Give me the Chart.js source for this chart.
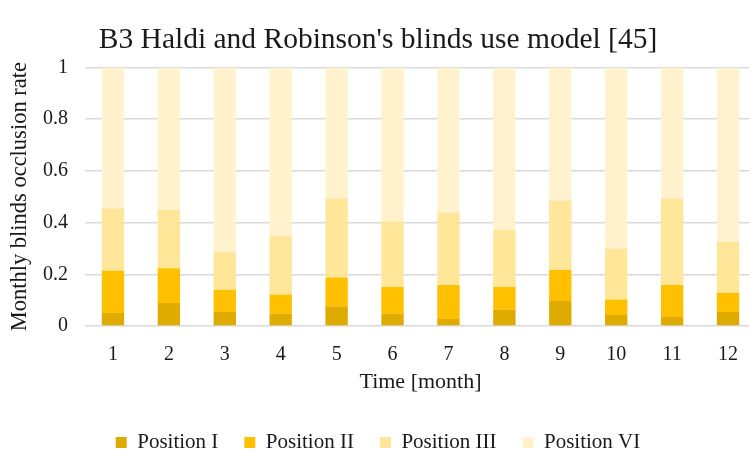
<!DOCTYPE html>
<html>
<head>
<meta charset="utf-8">
<script src="https://cdn.jsdelivr.net/npm/chart.js@4"></script>
<style>
  html, body { margin: 0; padding: 0; background: #fff; }
  #wrap { width: 749px; height: 453px; overflow: hidden; }
  #blindsChart { display: block; }
</style>
</head>
<body>
<div id="wrap"><canvas id="blindsChart" width="756" height="463"></canvas></div>
<script>
const months = ["1", "2", "3", "4", "5", "6", "7", "8", "9", "10", "11", "12"];
const positionI = [0.050, 0.089, 0.054, 0.047, 0.076, 0.047, 0.027, 0.063, 0.097, 0.043, 0.035, 0.054];
const positionII = [0.164, 0.134, 0.086, 0.075, 0.112, 0.104, 0.132, 0.088, 0.120, 0.059, 0.124, 0.075];
const positionIII = [0.240, 0.227, 0.145, 0.225, 0.305, 0.253, 0.280, 0.221, 0.268, 0.198, 0.334, 0.197];
const positionVI = [0.546, 0.550, 0.715, 0.653, 0.507, 0.596, 0.561, 0.628, 0.515, 0.700, 0.507, 0.674];
const yTicks = [0, 0.2, 0.4, 0.6, 0.8, 1];

const serif = "'Liberation Serif', 'Times New Roman', serif";
const textColor = "#1a1a1a";

const ctx = document.getElementById("blindsChart").getContext("2d");

new Chart(ctx, {
  type: "bar",
  data: {
    labels: months,
    datasets: [
      { label: "Position I", data: positionI, backgroundColor: "#E0AB00" },
      { label: "Position II", data: positionII, backgroundColor: "#FFC000" },
      { label: "Position III", data: positionIII, backgroundColor: "#FFE699" },
      { label: "Position VI", data: positionVI, backgroundColor: "#FFF2CC" },
    ],
  },
  options: {
    responsive: false,
    animation: false,
    categoryPercentage: 1,
    barPercentage: 0.4,
    layout: { padding: 0 },
    plugins: {
      title: {
        display: true,
        text: "B3 Haldi and Robinson's blinds use model [45]",
        color: textColor,
        font: { family: serif, size: 29.5, weight: "normal" },
        padding: { top: 23, bottom: 9 },
      },
      legend: {
        position: "bottom",
        labels: {
          color: textColor,
          font: { family: serif, size: 21 },
          boxWidth: 11,
          boxHeight: 11,
          padding: 26,
        },
      },
      tooltip: { enabled: false },
    },
    scales: {
      x: {
        stacked: true,
        grid: { display: false },
        border: { display: false },
        ticks: { color: textColor, font: { family: serif, size: 20 }, padding: 9 },
        title: {
          display: true,
          text: "Time [month]",
          color: textColor,
          font: { family: serif, size: 22 },
          padding: { top: 7, bottom: 11 },
        },
        afterFit: function (scale) {
          scale.height = 80;
        },
      },
      y: {
        stacked: true,
        min: 0,
        max: 1,
        afterBuildTicks: function (scale) {
          scale.ticks = yTicks.map((v) => ({ value: v }));
        },
        grid: { color: "#d9d9d9", lineWidth: 1.5, drawTicks: false },
        border: { display: false },
        ticks: {
          color: textColor,
          font: { family: serif, size: 20 },
          padding: 17,
          callback: (v) => String(Math.round(v * 10) / 10),
        },
        title: {
          display: true,
          text: "Monthly blinds occlusion rate",
          color: textColor,
          font: { family: serif, size: 22.5 },
          padding: { top: 7, bottom: 0 },
        },
        afterFit: function (scale) {
          scale.width = 85;
        },
      },
    },
  },
});
</script>
</body>
</html>
